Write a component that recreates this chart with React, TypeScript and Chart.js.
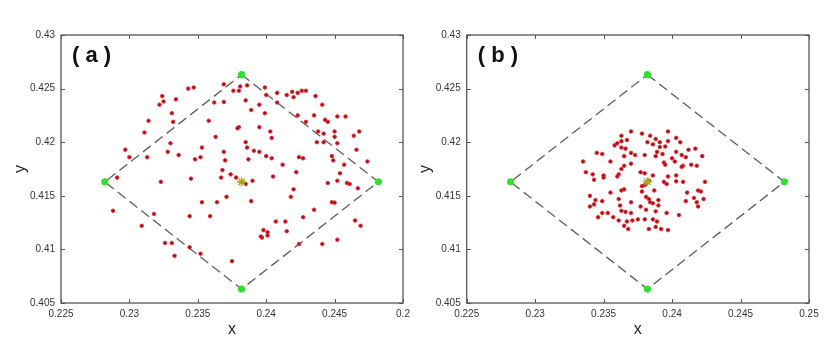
import React, { useEffect, useRef } from "react";
import { Chart, registerables } from "chart.js";

Chart.register(...registerables);

// ---------- data ----------
const xTickValues = [0.225, 0.23, 0.235, 0.24, 0.245, 0.25];
const xTickLabelsA = ["0.225", "0.23", "0.235", "0.24", "0.245", "0.2"];
const xTickLabelsB = ["0.225", "0.23", "0.235", "0.24", "0.245", "0.25"];
const yTickValues = [0.405, 0.41, 0.415, 0.42, 0.425, 0.43];
const yTickLabels = ["0.405", "0.41", "0.415", "0.42", "0.425", "0.43"];

// diamond vertices (top, right, bottom, left, back to top)
const vertexX = [0.2382, 0.2482, 0.2382, 0.2282, 0.2382];
const vertexY = [0.4263, 0.4163, 0.4063, 0.4163, 0.4263];
const centerX = [0.2382];
const centerY = [0.4163];

// panel (a) scattered points
const xA = [
  0.2343, 0.2347, 0.2369, 0.2324, 0.2325, 0.2322, 0.2334, 0.2362, 0.2369, 0.2376,
  0.2331, 0.2314, 0.2332, 0.2358, 0.2311, 0.2363, 0.233, 0.2297, 0.2353, 0.2328,
  0.2336, 0.23, 0.2313, 0.2348, 0.2352, 0.2369, 0.237, 0.2368, 0.2291, 0.2323,
  0.2345, 0.2367, 0.2374, 0.2371, 0.2353, 0.2364, 0.2288, 0.2318, 0.2344, 0.2359,
  0.2309, 0.2326, 0.2331, 0.2344, 0.2333, 0.2352, 0.2375, 0.2381, 0.238, 0.2386,
  0.2399, 0.24, 0.2408, 0.2415, 0.2419, 0.2423, 0.242, 0.2426, 0.2429, 0.2436,
  0.2385, 0.2395, 0.2389, 0.2399, 0.2408, 0.2441, 0.238, 0.2379, 0.2395, 0.2403,
  0.2404, 0.2423, 0.2429, 0.2435, 0.2443, 0.2445, 0.2452, 0.2458, 0.2438, 0.2442,
  0.245, 0.245, 0.2464, 0.2468, 0.2437, 0.2442, 0.2452, 0.2466, 0.2385, 0.2386,
  0.2391, 0.2395, 0.24, 0.2404, 0.2387, 0.2412, 0.2424, 0.2427, 0.2448, 0.2449,
  0.2457, 0.2474, 0.2422, 0.2405, 0.239, 0.2378, 0.2385, 0.2445, 0.2452, 0.2459,
  0.2461, 0.2454, 0.2467, 0.242, 0.2418, 0.2389, 0.2448, 0.245, 0.2435, 0.2427,
  0.2407, 0.2414, 0.2415, 0.2465, 0.2469, 0.2398, 0.2401, 0.2401, 0.2397, 0.2396,
  0.2424, 0.2441, 0.2452,
];
const yA = [
  0.425, 0.4251, 0.4254, 0.4243, 0.4238, 0.4235, 0.424, 0.4237, 0.42375, 0.4248,
  0.4227, 0.422, 0.4219, 0.422, 0.4209, 0.4205, 0.4199, 0.4193, 0.4195, 0.4191,
  0.4188, 0.4186, 0.4186, 0.4184, 0.4186, 0.4191, 0.4183, 0.4174, 0.4167, 0.4163,
  0.4166, 0.4167, 0.417, 0.4149, 0.4144, 0.4144, 0.4136, 0.4133, 0.4131, 0.4131,
  0.4122, 0.4106, 0.4106, 0.4102, 0.4094, 0.4096, 0.4089, 0.4252, 0.4248, 0.4253,
  0.4251, 0.4244, 0.4246, 0.4244, 0.4247, 0.4246, 0.4242, 0.4248, 0.4248, 0.4243,
  0.4239, 0.4235, 0.423, 0.4227, 0.4237, 0.4235, 0.4214, 0.4213, 0.4214, 0.421,
  0.4204, 0.4225, 0.4219, 0.4225, 0.4221, 0.4219, 0.4224, 0.4224, 0.421, 0.4208,
  0.421, 0.4205, 0.4206, 0.421, 0.42, 0.42, 0.4199, 0.4193, 0.42, 0.4195,
  0.4192, 0.4191, 0.4187, 0.4185, 0.4184, 0.4179, 0.4186, 0.4185, 0.4187, 0.4183,
  0.4179, 0.4182, 0.4172, 0.4168, 0.4164, 0.4167, 0.4161, 0.4162, 0.4164, 0.4162,
  0.4161, 0.4171, 0.4157, 0.4156, 0.4149, 0.4145, 0.4144, 0.41436, 0.4137, 0.413,
  0.4126, 0.4126, 0.4117, 0.4127, 0.4122, 0.4118, 0.4116, 0.4113, 0.4111, 0.4112,
  0.4105, 0.4105, 0.4109,
];

// panel (b) clustered points
const xB = [
  0.237, 0.2363, 0.2367, 0.2363, 0.236, 0.2358, 0.2363, 0.2366, 0.237, 0.2373,
  0.2345, 0.2349, 0.2335, 0.2355, 0.2365, 0.2365, 0.2363, 0.237, 0.2337, 0.2342,
  0.235, 0.235, 0.2343, 0.2361, 0.236, 0.2363, 0.2365, 0.2355, 0.234, 0.2344,
  0.2349, 0.2343, 0.234, 0.2361, 0.237, 0.2362, 0.2363, 0.2366, 0.237, 0.2349,
  0.2353, 0.2346, 0.2357, 0.2361, 0.2367, 0.2371, 0.2375, 0.2365, 0.2368, 0.2397,
  0.2384, 0.2388, 0.2403, 0.2378, 0.2382, 0.2386, 0.2391, 0.2395, 0.2391, 0.2397,
  0.2406, 0.238, 0.2388, 0.2389, 0.2393, 0.24, 0.2403, 0.2407, 0.241, 0.2412,
  0.2417, 0.2422, 0.2394, 0.2395, 0.2402, 0.2408, 0.2407, 0.2414, 0.2418, 0.2377,
  0.238, 0.2386, 0.2397, 0.2403, 0.2383, 0.2378, 0.238, 0.2394, 0.2396, 0.2403,
  0.2408, 0.2424, 0.2378, 0.2387, 0.2381, 0.2383, 0.2384, 0.239, 0.2419, 0.2421,
  0.2411, 0.2416, 0.241, 0.2418, 0.2423, 0.2377, 0.2386, 0.239, 0.2381, 0.2388,
  0.2396, 0.2419, 0.238, 0.2386, 0.2389, 0.2405, 0.2383, 0.2388, 0.2392, 0.2397,
];
const yB = [
  0.421, 0.4206, 0.4202, 0.4201, 0.4199, 0.4197, 0.4195, 0.4194, 0.419, 0.4188,
  0.419, 0.4189, 0.4182, 0.4182, 0.4187, 0.4178, 0.4175, 0.418, 0.4172, 0.417,
  0.4169, 0.4167, 0.4165, 0.417, 0.4168, 0.4155, 0.4156, 0.4153, 0.415, 0.4146,
  0.4145, 0.4142, 0.414, 0.4147, 0.4144, 0.4141, 0.4136, 0.4135, 0.4134, 0.4134,
  0.4134, 0.413, 0.413, 0.4127, 0.4126, 0.4127, 0.4128, 0.4122, 0.4119, 0.421,
  0.4206, 0.4203, 0.4204, 0.4208, 0.42, 0.4198, 0.42, 0.4196, 0.41955, 0.4201,
  0.42, 0.4188, 0.4187, 0.4191, 0.4189, 0.4185, 0.4191, 0.4188, 0.4186, 0.4193,
  0.4194, 0.4187, 0.4181, 0.4179, 0.4182, 0.4178, 0.4177, 0.4179, 0.4178, 0.4172,
  0.4171, 0.4169, 0.4168, 0.4169, 0.4164, 0.4159, 0.416, 0.4163, 0.4161, 0.41635,
  0.4163, 0.4163, 0.4154, 0.4155, 0.4149, 0.4147, 0.4144, 0.4146, 0.4155, 0.4154,
  0.4153, 0.4148, 0.4145, 0.4144, 0.4147, 0.414, 0.4143, 0.4141, 0.4137, 0.41355,
  0.4134, 0.414, 0.4128, 0.4128, 0.4126, 0.4132, 0.4119, 0.4121, 0.4119, 0.4118,
];

// ---------- helpers ----------
const FONT = '"Liberation Sans", Arial, Helvetica, sans-serif';

const pts = (xs: number[], ys: number[]) => xs.map((x, i) => ({ x, y: ys[i] }));

const boxPlugin = {
  id: "matlabBox",
  afterDraw(chart: any, _args: any, opts: any) {
    const { ctx, chartArea: a, scales } = chart;
    ctx.save();
    ctx.strokeStyle = "#555";
    ctx.lineWidth = 1.3;
    ctx.strokeRect(a.left, a.top, a.right - a.left, a.bottom - a.top);
    const L = 4;
    ctx.beginPath();
    scales.x.ticks.forEach((t: any) => {
      const px = Math.round(scales.x.getPixelForValue(t.value)) + 0.5;
      ctx.moveTo(px, a.bottom);
      ctx.lineTo(px, a.bottom - L);
      ctx.moveTo(px, a.top);
      ctx.lineTo(px, a.top + L);
    });
    scales.y.ticks.forEach((t: any) => {
      const py = Math.round(scales.y.getPixelForValue(t.value)) + 0.5;
      ctx.moveTo(a.left, py);
      ctx.lineTo(a.left + L, py);
      ctx.moveTo(a.right, py);
      ctx.lineTo(a.right - L, py);
    });
    ctx.lineWidth = 1;
    ctx.stroke();
    ctx.font = `bold 22px ${FONT}`;
    ctx.fillStyle = "#111";
    ctx.textAlign = "left";
    ctx.textBaseline = "middle";
    ctx.fillText(opts.text, a.left + 11, a.top + 21);
    ctx.restore();
  },
};

type PanelProps = {
  px: number[];
  py: number[];
  xLabels: string[];
  label: string;
  width: number;
  yAxisWidth: number;
  padRight: number;
  yTitlePad: number;
};

function Panel({ px, py, xLabels, label, width, yAxisWidth, padRight, yTitlePad }: PanelProps) {
  const ref = useRef<HTMLCanvasElement | null>(null);
  useEffect(() => {
    if (!ref.current) return;
    const chart = new Chart(ref.current, {
      type: "scatter",
      data: {
        datasets: [
          {
            label: "center",
            data: pts(centerX, centerY),
            pointStyle: "star",
            pointRadius: 4.5,
            borderColor: "#a8a810",
            backgroundColor: "#e0a020",
            borderWidth: 1.5,
          },
          {
            label: "vertices",
            data: pts(vertexX.slice(0, 4), vertexY.slice(0, 4)),
            pointStyle: "circle",
            pointRadius: 3.6,
            backgroundColor: "#2fe02f",
            borderColor: "#2fe02f",
            borderWidth: 0,
          },
          {
            label: "points",
            data: pts(px, py),
            pointStyle: "circle",
            pointRadius: 1.8,
            backgroundColor: "#a01020",
            borderColor: "rgba(235,45,45,0.9)",
            borderWidth: 1,
          },
          {
            label: "boundary",
            data: pts(vertexX, vertexY),
            showLine: true,
            pointRadius: 0,
            borderColor: "#5c5c5c",
            borderWidth: 1.3,
            borderDash: [10, 5],
            fill: false,
          },
        ],
      },
      options: {
        responsive: false,
        animation: false,
        layout: { padding: { left: 0, top: 35, right: padRight, bottom: 0 } },
        plugins: {
          legend: { display: false },
          tooltip: { enabled: false },
          matlabBox: { text: label },
        } as any,
        scales: {
          x: {
            type: "linear",
            min: 0.225,
            max: 0.25,
            afterBuildTicks: (s: any) => {
              s.ticks = xTickValues.map((v) => ({ value: v }));
            },
            afterFit: (s: any) => {
              s.height = 48;
            },
            grid: { display: false, drawTicks: false },
            border: { display: false },
            ticks: {
              autoSkip: false,
              maxRotation: 0,
              padding: 5,
              color: "#333",
              font: { family: FONT, size: 10 },
              callback: (_v: any, i: number) => xLabels[i],
            },
            title: {
              display: true,
              text: "x",
              color: "#222",
              font: { family: FONT, size: 16, lineHeight: 1 },
              padding: { top: 0, bottom: 13 },
            },
          },
          y: {
            type: "linear",
            min: 0.405,
            max: 0.43,
            afterBuildTicks: (s: any) => {
              s.ticks = yTickValues.map((v) => ({ value: v }));
            },
            afterFit: (s: any) => {
              s.width = yAxisWidth;
            },
            grid: { display: false, drawTicks: false },
            border: { display: false },
            ticks: {
              autoSkip: false,
              padding: 6,
              color: "#333",
              font: { family: FONT, size: 10 },
              callback: (_v: any, i: number) => yTickLabels[i],
            },
            title: {
              display: true,
              text: "y",
              color: "#222",
              font: { family: FONT, size: 16, lineHeight: 1 },
              padding: { top: yTitlePad, bottom: 0 },
            },
          },
        },
      },
      plugins: [boxPlugin as any],
    });
    return () => chart.destroy();
  }, []);
  return <canvas ref={ref} width={width} height={351} style={{ display: "block" }} />;
}

export default function App() {
  return (
    <div style={{ position: "absolute", left: 0, top: 0, width: 837, height: 351, background: "#fff" }}>
      <div style={{ position: "absolute", left: 0, top: 0 }}>
        <Panel px={xA} py={yA} xLabels={xTickLabelsA} label="( a )" width={418} yAxisWidth={61} padRight={15} yTitlePad={13} />
      </div>
      <div style={{ position: "absolute", left: 418, top: 0 }}>
        <Panel px={xB} py={yB} xLabels={xTickLabelsB} label="( b )" width={419} yAxisWidth={48.7} padRight={28} yTitlePad={0} />
      </div>
    </div>
  );
}
